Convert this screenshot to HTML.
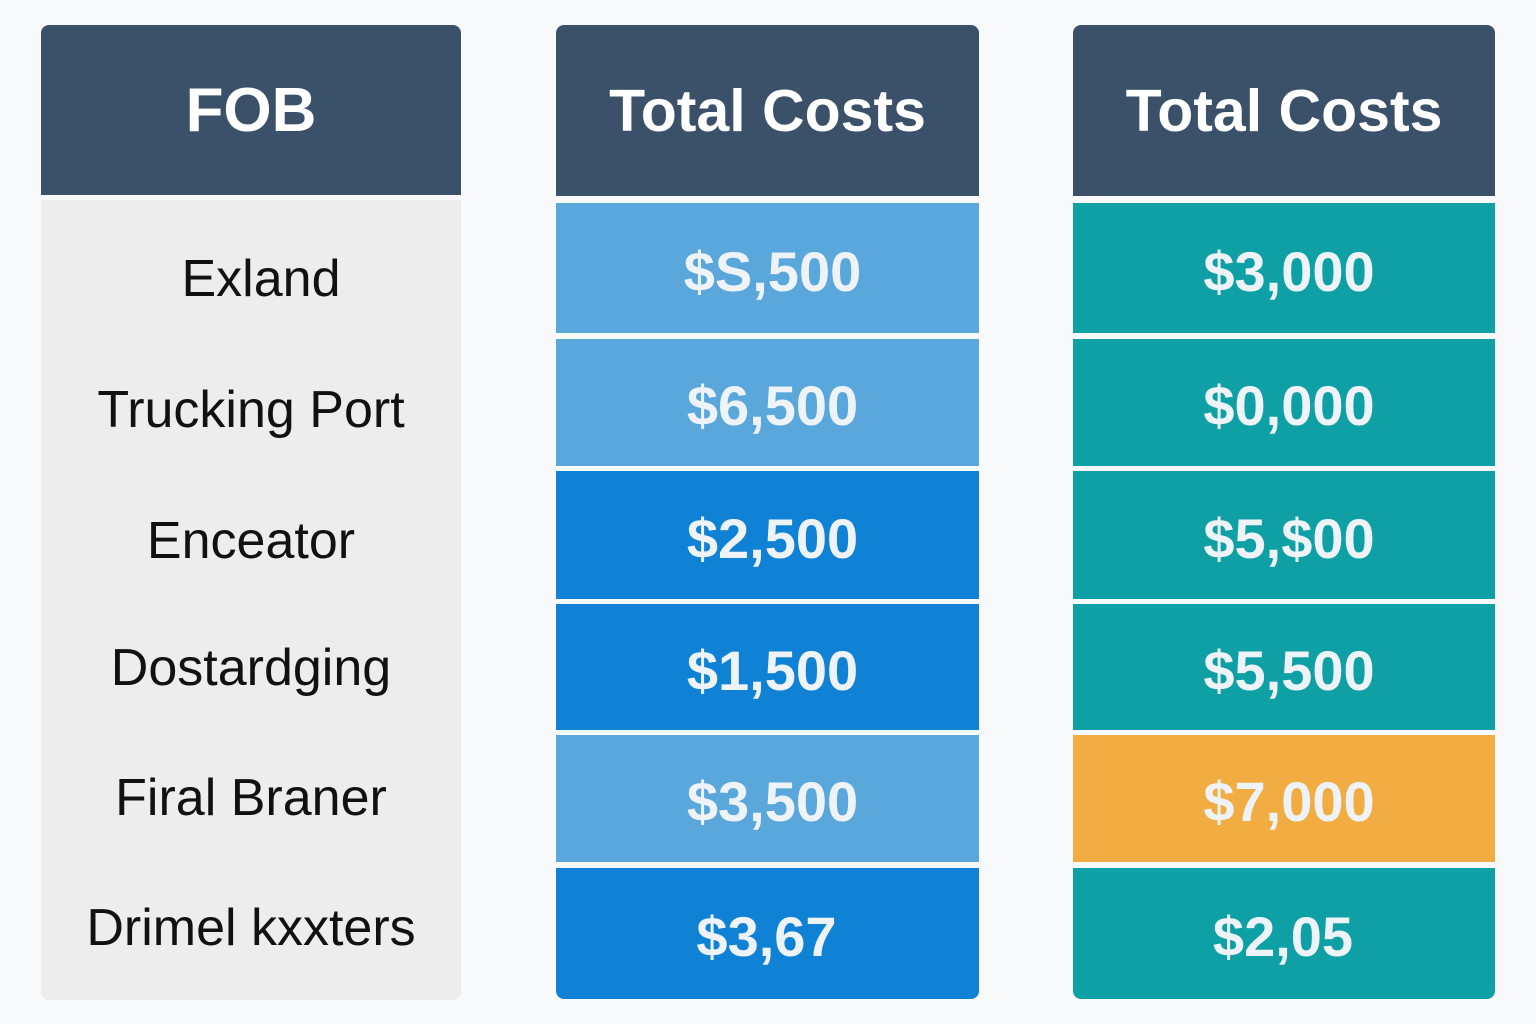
<!DOCTYPE html>
<html><head><meta charset="utf-8"><style>
*{margin:0;padding:0;box-sizing:border-box}
body{width:1536px;height:1024px;background:#f8f9fa;position:relative;font-family:"Liberation Sans",sans-serif;overflow:hidden}
.b{position:absolute;display:flex;align-items:center;justify-content:center}
.h{background:#3b5169;color:#fff;font-weight:bold;font-size:59px;border-radius:8px 8px 0 0}
.v{color:#eef3f7;font-weight:bold;font-size:56px;padding-left:10px;padding-top:6px}
.l{color:#111;font-size:52px}
.lb{background:#5aa7dc}.db{background:#0f82d5}.t{background:#0fa0a5}.o{background:#f2ad42}
</style></head><body>
<div class="b h" style="left:41px;top:25px;width:420px;height:170px;font-size:62px">FOB</div>
<div class="b" style="left:41px;top:200px;width:420px;height:800px;background:#ededed;border-radius:0 0 8px 8px"></div>
<div class="b l" style="left:41px;top:214px;width:440px;height:130px">Exland</div>
<div class="b l" style="left:41px;top:345px;width:420px;height:130px">Trucking Port</div>
<div class="b l" style="left:41px;top:476px;width:420px;height:130px">Enceator</div>
<div class="b l" style="left:41px;top:603px;width:420px;height:130px">Dostardging</div>
<div class="b l" style="left:41px;top:733px;width:420px;height:130px">Firal Braner</div>
<div class="b l" style="left:41px;top:863px;width:420px;height:130px">Drimel kxxters</div>

<div class="b h" style="left:556px;top:25px;width:423px;height:171px">Total Costs</div>
<div class="b v lb" style="left:556px;top:203px;width:423px;height:130px">$S,500</div>
<div class="b v lb" style="left:556px;top:339px;width:423px;height:127px">$6,500</div>
<div class="b v db" style="left:556px;top:471px;width:423px;height:128px">$2,500</div>
<div class="b v db" style="left:556px;top:604px;width:423px;height:126px">$1,500</div>
<div class="b v lb" style="left:556px;top:735px;width:423px;height:127px">$3,500</div>
<div class="b v db" style="left:556px;top:868px;width:423px;height:131px;border-radius:0 0 8px 8px;padding-right:12px">$3,67</div>

<div class="b h" style="left:1073px;top:25px;width:422px;height:171px">Total Costs</div>
<div class="b v t" style="left:1073px;top:203px;width:422px;height:130px">$3,000</div>
<div class="b v t" style="left:1073px;top:339px;width:422px;height:127px">$0,000</div>
<div class="b v t" style="left:1073px;top:471px;width:422px;height:128px">$5,$00</div>
<div class="b v t" style="left:1073px;top:604px;width:422px;height:126px">$5,500</div>
<div class="b v o" style="left:1073px;top:735px;width:422px;height:127px">$7,000</div>
<div class="b v t" style="left:1073px;top:868px;width:422px;height:131px;border-radius:0 0 8px 8px;padding-right:12px">$2,05</div>
</body></html>
